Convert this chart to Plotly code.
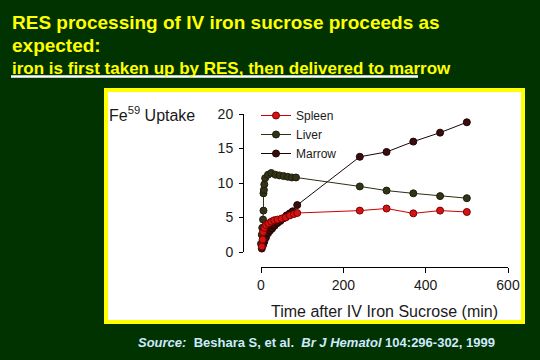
import plotly.graph_objects as go

W, H = 540, 360
FONT = "Liberation Sans, Arial, sans-serif"

# ---- data ----
spleen_t = [2, 4, 5, 8, 12, 18, 25, 32, 40, 50, 60, 70, 80, 88, 240, 305, 370, 435, 500]
spleen = [0.8, 1.8, 2.9, 3.5, 3.9, 4.15, 4.4, 4.6, 4.7, 4.85, 5.0, 5.3, 5.5, 5.65, 6.0, 6.3, 5.6, 6.0, 5.8]

liver_t = [0, 2, 3, 5, 6, 6, 7, 8, 10, 17, 25, 35, 45, 55, 65, 75, 85, 240, 305, 370, 435, 500]
liver = [1.2, 2.5, 3.5, 4.7, 6.0, 8.5, 9.0, 9.8, 10.7, 11.2, 11.45, 11.2, 11.1, 11.0, 10.9, 10.8, 10.8, 9.5, 8.9, 8.5, 8.1, 7.8]

marrow_t = [2, 5, 8, 12, 17, 22, 27, 33, 40, 47, 55, 62, 70, 77, 88, 240, 305, 370, 435, 500]
marrow = [0.5, 1.0, 1.5, 2.1, 2.7, 3.1, 3.4, 3.8, 4.2, 4.5, 4.9, 5.3, 5.6, 5.9, 6.8, 13.8, 14.5, 16.0, 17.3, 18.8]

x_ticks = [0, 200, 400, 600]
y_ticks = [0, 5, 10, 15, 20]


def px(x):
    return x / W


def py(y):
    return 1 - y / H


fig = go.Figure()

# drawn marrow first so the red spleen markers sit on top; legend keeps Spleen, Liver, Marrow
series = [
    ("Marrow", marrow_t, marrow, "#1a0505", "#3a0c0c", "#1e0404", 3),
    ("Liver", liver_t, liver, "#2e2e14", "#33331a", "#1e1e0a", 2),
    ("Spleen", spleen_t, spleen, "#cc0000", "#d41414", "#7a0000", 1),
]
for name, t, v, lc, mc, ml, rank in series:
    fig.add_trace(go.Scatter(
        x=t, y=v, name=name, mode="lines+markers", legendrank=rank,
        line=dict(color=lc, width=1),
        marker=dict(color=mc, size=7, line=dict(color=ml, width=1)),
        cliponaxis=False,
    ))

axis_font = dict(family=FONT, size=14, color="#1a1a1a")

fig.update_layout(
    width=W, height=H, autosize=False,
    margin=dict(l=0, r=0, t=0, b=0, pad=0, autoexpand=False),
    paper_bgcolor="#003300",
    plot_bgcolor="rgba(0,0,0,0)",
    showlegend=True,
    legend=dict(
        x=px(256), y=py(101), xanchor="left", yanchor="top",
        bgcolor="rgba(0,0,0,0)", borderwidth=0,
        font=dict(family=FONT, size=12, color="#1a1a1a"),
        itemwidth=30,
    ),
    xaxis=dict(
        domain=[px(261), px(508)], range=[0, 600],
        anchor="free", position=py(267), automargin=False,
        tickvals=x_ticks, ticks="outside", ticklen=5, tickcolor="#000",
        showline=True, linecolor="#000", linewidth=1,
        showgrid=False, zeroline=False,
        tickfont=axis_font,
        title=dict(text="Time after IV Iron Sucrose (min)",
                   font=dict(family=FONT, size=16, color="#1a1a1a"),
                   standoff=14),
    ),
    yaxis=dict(
        domain=[py(252), py(114)], range=[0, 20],
        anchor="free", position=px(243), automargin=False,
        tickvals=y_ticks, ticks="outside", ticklen=4, tickcolor="#000",
        ticklabelstandoff=3,
        showline=True, linecolor="#000", linewidth=1,
        showgrid=False, zeroline=False,
        tickfont=axis_font,
    ),
    shapes=[
        dict(type="rect", xref="paper", yref="paper",
             x0=px(106), x1=px(523), y0=py(90), y1=py(322),
             fillcolor="white", line=dict(color="#ffff00", width=4),
             layer="below"),
        dict(type="line", xref="paper", yref="paper",
             x0=px(11), x1=px(418), y0=py(76.5), y1=py(76.5),
             line=dict(color="white", width=2.5)),
    ],
)

ann = [
    dict(text="<b>RES processing of IV iron sucrose proceeds as</b>",
         x=px(10), y=py(22), size=19, color="#ffff00"),
    dict(text="<b>expected:</b>",
         x=px(10), y=py(45.5), size=19, color="#ffff00"),
    dict(text="<b>iron is first taken up by RES, then delivered to marrow</b>",
         x=px(10), y=py(68.5), size=17, color="#ffff00"),
    dict(text="Fe<sup>59</sup> Uptake",
         x=px(107), y=py(114), size=16, color="#1a1a1a"),
    dict(text="<b><i>Source:</i>  Beshara S, et al.  <i>Br J Hematol</i> 104:296-302, 1999</b>",
         x=px(136), y=py(342), size=13, color="#cfe9ff"),
]
for a in ann:
    fig.add_annotation(
        text=a["text"], x=a["x"], y=a["y"], xref="paper", yref="paper",
        xanchor="left", yanchor="middle", showarrow=False,
        font=dict(family=FONT, size=a["size"], color=a["color"]),
    )

fig.write_html(
    "out.html",
    config={"displayModeBar": False, "responsive": False},
    post_script="document.body.style.margin='0';document.body.style.overflow='hidden';",
)
